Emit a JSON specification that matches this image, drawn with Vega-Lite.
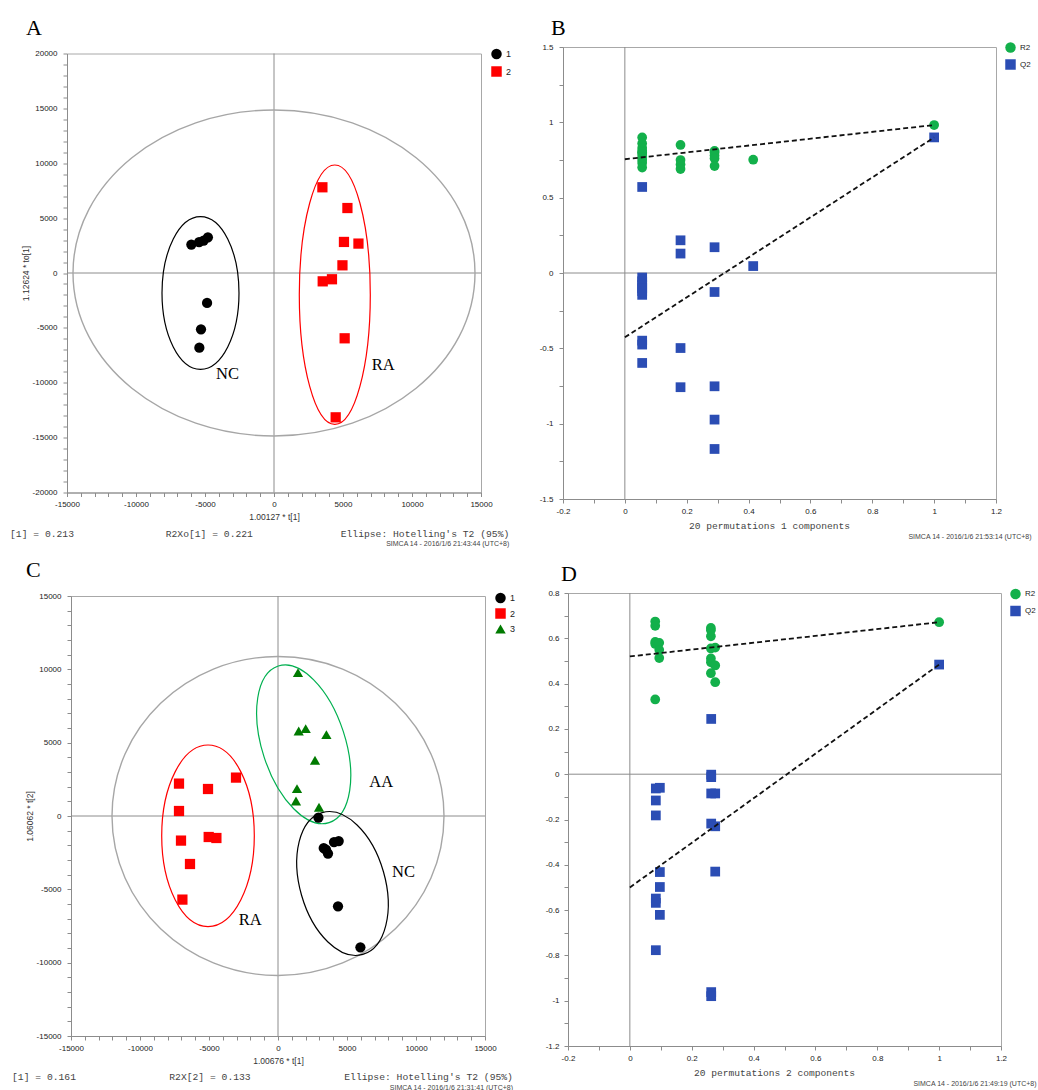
{
"$schema": "https://vega.github.io/schema/vega-lite/v6.json",
"background": "white",
"padding": {"left": 9, "top": 16, "right": 0, "bottom": 0},
"bounds": "flush",
"spacing": 546,
"resolve": {"scale": {"color": "independent", "shape": "independent"}},
"config": {
  "view": {"stroke": "#a8a8a8", "strokeWidth": 1},
  "axis": {"grid": false, "domainColor": "#8c8c8c", "tickColor": "#8c8c8c", "tickSize": 4, "labelFont": "Liberation Sans", "labelFontSize": 8, "labelColor": "#222", "labelOverlap": false, "labelFlush": false, "labelBound": false, "labelPadding": 4, "titleFont": "Liberation Sans", "titleFontSize": 8.5, "titleFontWeight": "normal", "titleColor": "#333"},
  "axisY": {"labelPadding": 6},
  "legend": {"padding": 0, "labelFont": "Liberation Sans", "labelFontSize": 9, "labelColor": "#222", "symbolStrokeWidth": 0, "symbolSize": 110, "labelOffset": 4},
  "title": {"font": "Liberation Serif", "fontSize": 22, "fontWeight": "normal", "anchor": "start", "frame": "group", "color": "#000"},
  "locale": {"number": {"decimal": ".", "thousands": "", "grouping": [3], "currency": ["", ""], "minus": "-"}}
},
"vconcat": [
 {
  "hconcat": [
   {
    "width": 414, "height": 439,
    "title": {"text": "A", "dx": -41, "offset": 8.5},
    "layer": [
     {"data": {"values": [{"x": 0}]}, "mark": {"type": "rule", "color": "#8c8c8c", "strokeWidth": 1}, "encoding": {"x": {"field": "x", "type": "quantitative"}}},
     {"data": {"values": [{"y": 0}]}, "mark": {"type": "rule", "color": "#8c8c8c", "strokeWidth": 1}, "encoding": {"y": {"field": "y", "type": "quantitative"}}},
     {"data": {"values": [{"x": 0, "y": 0}]}, "mark": {"type": "point", "shape": "M201,0C201,90 111,163 0,163C-111,163 -201,90 -201,0C-201,-90 -111,-163 0,-163C111,-163 201,-90 201,0Z", "size": 4, "filled": false, "stroke": "#a6a6a6", "strokeWidth": 1.4, "opacity": 1}, "encoding": {"x": {"field": "x", "type": "quantitative"}, "y": {"field": "y", "type": "quantitative"}}},
     {"data": {"values": [{"x": -5326, "y": -1822}]}, "mark": {"type": "point", "shape": "M38.5,0C38.5,42.1 21.3,76.3 0,76.3C-21.3,76.3 -38.5,42.1 -38.5,0C-38.5,-42.1 -21.3,-76.3 0,-76.3C21.3,-76.3 38.5,-42.1 38.5,0Z", "size": 4, "filled": false, "stroke": "#000000", "strokeWidth": 1.2, "opacity": 1}, "encoding": {"x": {"field": "x", "type": "quantitative"}, "y": {"field": "y", "type": "quantitative"}}},
     {"data": {"values": [{"x": 4406, "y": -1977}]}, "mark": {"type": "point", "shape": "M35.5,0C35.5,71.6 19.6,129.7 0,129.7C-19.6,129.7 -35.5,71.6 -35.5,0C-35.5,-71.6 -19.6,-129.7 0,-129.7C19.6,-129.7 35.5,-71.6 35.5,0Z", "size": 4, "filled": false, "stroke": "#ff0000", "strokeWidth": 1.2, "opacity": 1}, "encoding": {"x": {"field": "x", "type": "quantitative"}, "y": {"field": "y", "type": "quantitative"}}},
     {"data": {"values": [
        {"x": -5990, "y": 2590, "g": "1"}, {"x": -5430, "y": 2820, "g": "1"}, {"x": -5100, "y": 2950, "g": "1"}, {"x": -4790, "y": 3250, "g": "1"},
        {"x": -4850, "y": -2730, "g": "1"}, {"x": -5290, "y": -5130, "g": "1"}, {"x": -5410, "y": -6800, "g": "1"},
        {"x": 3507, "y": 7810, "g": "2"}, {"x": 5320, "y": 5920, "g": "2"}, {"x": 5070, "y": 2830, "g": "2"}, {"x": 6120, "y": 2680, "g": "2"},
        {"x": 4960, "y": 700, "g": "2"}, {"x": 3530, "y": -760, "g": "2"}, {"x": 4200, "y": -570, "g": "2"}, {"x": 5120, "y": -5950, "g": "2"}, {"x": 4470, "y": -13150, "g": "2"}]},
      "mark": {"type": "point", "filled": true, "opacity": 1, "size": 105},
      "encoding": {
       "x": {"field": "x", "type": "quantitative", "scale": {"domain": [-15000, 15000], "nice": false, "zero": false},
             "axis": {"values": [-15000,-14000,-13000,-12000,-11000,-10000,-9000,-8000,-7000,-6000,-5000,-4000,-3000,-2000,-1000,0,1000,2000,3000,4000,5000,6000,7000,8000,9000,10000,11000,12000,13000,14000,15000], "tickCount": 200, "format": "d", "labelExpr": "datum.value % 5000 === 0 ? datum.label : ''", "labelOverlap": false, "title": "1.00127 * t[1]", "titlePadding": 4}},
       "y": {"field": "y", "type": "quantitative", "scale": {"domain": [-20000, 20000], "nice": false, "zero": false},
             "axis": {"values": [-20000,-19000,-18000,-17000,-16000,-15000,-14000,-13000,-12000,-11000,-10000,-9000,-8000,-7000,-6000,-5000,-4000,-3000,-2000,-1000,0,1000,2000,3000,4000,5000,6000,7000,8000,9000,10000,11000,12000,13000,14000,15000,16000,17000,18000,19000,20000], "tickCount": 200, "format": "d", "labelExpr": "datum.value % 5000 === 0 ? datum.label : ''", "labelOverlap": false, "title": "1.12624 * to[1]", "titlePadding": 2}},
       "color": {"field": "g", "type": "nominal", "scale": {"domain": ["1", "2"], "range": ["#000000", "#ff0000"]}, "legend": {"title": null, "orient": "none", "legendX": 424, "legendY": -5, "rowPadding": 6.5}},
       "shape": {"field": "g", "type": "nominal", "scale": {"domain": ["1", "2"], "range": ["circle", "square"]}, "legend": {"title": null, "orient": "none", "legendX": 424, "legendY": -5, "rowPadding": 6.5}}
      }},
     {"data": {"values": [{"x": -4203, "y": -9658, "t": "NC"}, {"x": 7080, "y": -8838, "t": "RA"}]}, "mark": {"type": "text", "align": "left", "baseline": "alphabetic", "font": "Liberation Serif", "fontSize": 16.5, "color": "#000"}, "encoding": {"x": {"field": "x", "type": "quantitative"}, "y": {"field": "y", "type": "quantitative"}, "text": {"field": "t"}}},
     {"data": {"values": [{"x": -19130, "y": -23754, "t": "[1] = 0.213"}, {"x": -7848, "y": -23754, "t": "R2Xo[1] = 0.221"}, {"x": 4833, "y": -23754, "t": "Ellipse: Hotelling's T2 (95%)"}]}, "mark": {"type": "text", "align": "left", "baseline": "middle", "font": "Liberation Mono", "fontSize": 9.7, "color": "#444"}, "encoding": {"x": {"field": "x", "type": "quantitative"}, "y": {"field": "y", "type": "quantitative"}, "text": {"field": "t"}}},
     {"data": {"values": [{"x": 17050, "y": -24665, "t": "SIMCA 14 - 2016/1/6 21:43:44 (UTC+8)"}]}, "mark": {"type": "text", "align": "right", "baseline": "middle", "font": "Liberation Sans", "fontSize": 7, "color": "#444"}, "encoding": {"x": {"field": "x", "type": "quantitative"}, "y": {"field": "y", "type": "quantitative"}, "text": {"field": "t"}}}
    ]
   },
   {
    "width": 433, "height": 452,
    "title": {"text": "B", "dx": -12, "offset": 2},
    "layer": [
     {"data": {"values": [{"x": 0}]}, "mark": {"type": "rule", "color": "#8c8c8c", "strokeWidth": 1}, "encoding": {"x": {"field": "x", "type": "quantitative"}}},
     {"data": {"values": [{"y": 0}]}, "mark": {"type": "rule", "color": "#8c8c8c", "strokeWidth": 1}, "encoding": {"y": {"field": "y", "type": "quantitative"}}},
     {"data": {"values": [
        {"x": 0.056, "y": 0.90, "s": "R2"}, {"x": 0.056, "y": 0.86, "s": "R2"}, {"x": 0.056, "y": 0.83, "s": "R2"}, {"x": 0.056, "y": 0.81, "s": "R2"}, {"x": 0.056, "y": 0.80, "s": "R2"},
        {"x": 0.056, "y": 0.79, "s": "R2"}, {"x": 0.056, "y": 0.77, "s": "R2"}, {"x": 0.056, "y": 0.75, "s": "R2"}, {"x": 0.056, "y": 0.73, "s": "R2"}, {"x": 0.056, "y": 0.70, "s": "R2"},
        {"x": 0.18, "y": 0.85, "s": "R2"}, {"x": 0.18, "y": 0.75, "s": "R2"}, {"x": 0.18, "y": 0.72, "s": "R2"}, {"x": 0.18, "y": 0.69, "s": "R2"},
        {"x": 0.29, "y": 0.81, "s": "R2"}, {"x": 0.29, "y": 0.80, "s": "R2"}, {"x": 0.29, "y": 0.78, "s": "R2"}, {"x": 0.29, "y": 0.76, "s": "R2"}, {"x": 0.29, "y": 0.71, "s": "R2"},
        {"x": 0.415, "y": 0.752, "s": "R2"}, {"x": 1.0, "y": 0.982, "s": "R2"},
        {"x": 0.056, "y": 0.571, "s": "Q2"}, {"x": 0.056, "y": -0.03, "s": "Q2"}, {"x": 0.056, "y": -0.055, "s": "Q2"}, {"x": 0.056, "y": -0.08, "s": "Q2"}, {"x": 0.056, "y": -0.10, "s": "Q2"},
        {"x": 0.056, "y": -0.12, "s": "Q2"}, {"x": 0.056, "y": -0.145, "s": "Q2"}, {"x": 0.056, "y": -0.449, "s": "Q2"}, {"x": 0.056, "y": -0.475, "s": "Q2"}, {"x": 0.056, "y": -0.597, "s": "Q2"},
        {"x": 0.18, "y": 0.217, "s": "Q2"}, {"x": 0.18, "y": 0.129, "s": "Q2"}, {"x": 0.18, "y": -0.498, "s": "Q2"}, {"x": 0.18, "y": -0.758, "s": "Q2"},
        {"x": 0.29, "y": 0.171, "s": "Q2"}, {"x": 0.29, "y": -0.126, "s": "Q2"}, {"x": 0.29, "y": -0.752, "s": "Q2"}, {"x": 0.29, "y": -0.973, "s": "Q2"}, {"x": 0.29, "y": -1.168, "s": "Q2"},
        {"x": 0.415, "y": 0.046, "s": "Q2"}, {"x": 1.0, "y": 0.90, "s": "Q2"}]},
      "mark": {"type": "point", "filled": true, "opacity": 1, "size": 95},
      "encoding": {
       "x": {"field": "x", "type": "quantitative", "scale": {"domain": [-0.2, 1.2], "nice": false, "zero": false},
             "axis": {"values": [-0.2,-0.1,0,0.1,0.2,0.3,0.4,0.5,0.6,0.7,0.8,0.9,1,1.1,1.2], "tickCount": 200, "format": "~g", "labelExpr": "round(datum.value*10) % 2 === 0 ? datum.label : ''", "labelOverlap": false, "title": "20 permutations 1 components", "titleFont": "Liberation Mono", "titleFontSize": 9.6, "titleColor": "#444", "titlePadding": 5, "titleX": 206}},
       "y": {"field": "y", "type": "quantitative", "scale": {"domain": [-1.5, 1.5], "nice": false, "zero": false},
             "axis": {"values": [-1.5,-1.25,-1,-0.75,-0.5,-0.25,0,0.25,0.5,0.75,1,1.25,1.5], "tickCount": 200, "format": "~g", "labelExpr": "round(datum.value*4) % 2 === 0 ? datum.label : ''", "labelOverlap": false, "title": null}},
       "color": {"field": "s", "type": "nominal", "scale": {"domain": ["R2", "Q2"], "range": ["#13b04b", "#2b4db4"]}, "legend": {"title": null, "orient": "none", "legendX": 442, "legendY": -5, "rowPadding": 6, "labelFontSize": 8}},
       "shape": {"field": "s", "type": "nominal", "scale": {"domain": ["R2", "Q2"], "range": ["circle", "square"]}, "legend": {"title": null, "orient": "none", "legendX": 442, "legendY": -5, "rowPadding": 6, "labelFontSize": 8}}
      }},
     {"data": {"values": [{"x": 0, "y": 0.755, "s": "R2"}, {"x": 1, "y": 0.982, "s": "R2"}, {"x": 0, "y": -0.427, "s": "Q2"}, {"x": 1, "y": 0.9, "s": "Q2"}]}, "mark": {"type": "line", "color": "#111", "strokeWidth": 1.8, "strokeDash": [5, 3]}, "encoding": {"x": {"field": "x", "type": "quantitative"}, "y": {"field": "y", "type": "quantitative"}, "detail": {"field": "s"}}},
     {"data": {"values": [{"x": 1.315, "y": -1.75, "t": "SIMCA 14 - 2016/1/6 21:53:14 (UTC+8)"}]}, "mark": {"type": "text", "align": "right", "baseline": "middle", "font": "Liberation Sans", "fontSize": 7, "color": "#444"}, "encoding": {"x": {"field": "x", "type": "quantitative"}, "y": {"field": "y", "type": "quantitative"}, "text": {"field": "t"}}}
    ]
   }
  ],
  "spacing": 82,
  "center": true,
  "bounds": "flush",
  "resolve": {"scale": {"color": "independent", "shape": "independent"}}
 },
 {
  "hconcat": [
   {
    "hconcat": [
     {"width": 4, "height": 1, "data": {"values": [{"k": 0}]}, "mark": {"type": "point", "opacity": 0}, "view": {"stroke": null}},
     {
      "vconcat": [
       {"width": 1, "height": 3, "data": {"values": [{"k": 0}]}, "mark": {"type": "point", "opacity": 0}, "view": {"stroke": null}},
       {
        "width": 414, "height": 440,
        "title": {"text": "C", "dx": -45, "offset": 10},
        "layer": [
         {"data": {"values": [{"x": 0}]}, "mark": {"type": "rule", "color": "#8c8c8c", "strokeWidth": 1}, "encoding": {"x": {"field": "x", "type": "quantitative"}}},
         {"data": {"values": [{"y": 0}]}, "mark": {"type": "rule", "color": "#8c8c8c", "strokeWidth": 1}, "encoding": {"y": {"field": "y", "type": "quantitative"}}},
         {"data": {"values": [{"x": 0, "y": 0}]}, "mark": {"type": "point", "shape": "M166,0C166,88.1 91.7,159.5 0,159.5C-91.7,159.5 -166,88.1 -166,0C-166,-88.1 -91.7,-159.5 0,-159.5C91.7,-159.5 166,-88.1 166,0Z", "size": 4, "filled": false, "stroke": "#a6a6a6", "strokeWidth": 1.4, "opacity": 1}, "encoding": {"x": {"field": "x", "type": "quantitative"}, "y": {"field": "y", "type": "quantitative"}}},
         {"data": {"values": [{"x": -5072, "y": -1350}]}, "mark": {"type": "point", "shape": "M46.3,0C46.3,50.1 25.6,90.8 0,90.8C-25.6,90.8 -46.3,50.1 -46.3,0C-46.3,-50.1 -25.6,-90.8 0,-90.8C25.6,-90.8 46.3,-50.1 46.3,0Z", "size": 4, "filled": false, "stroke": "#ff0000", "strokeWidth": 1.2, "opacity": 1}, "encoding": {"x": {"field": "x", "type": "quantitative"}, "y": {"field": "y", "type": "quantitative"}}},
         {"data": {"values": [{"x": 1862, "y": 4889}]}, "mark": {"type": "point", "shape": "M41.6,0C41.6,45.5 23,82.3 0,82.3C-23,82.3 -41.6,45.5 -41.6,0C-41.6,-45.5 -23,-82.3 0,-82.3C23,-82.3 41.6,-45.5 41.6,0Z", "angle": -18, "size": 4, "filled": false, "stroke": "#00b050", "strokeWidth": 1.2, "opacity": 1}, "encoding": {"x": {"field": "x", "type": "quantitative"}, "y": {"field": "y", "type": "quantitative"}}},
         {"data": {"values": [{"x": 4674, "y": -4602}]}, "mark": {"type": "point", "shape": "M42.6,0C42.6,40.8 23.5,73.8 0,73.8C-23.5,73.8 -42.6,40.8 -42.6,0C-42.6,-40.8 -23.5,-73.8 0,-73.8C23.5,-73.8 42.6,-40.8 42.6,0Z", "angle": -16, "size": 4, "filled": false, "stroke": "#000000", "strokeWidth": 1.2, "opacity": 1}, "encoding": {"x": {"field": "x", "type": "quantitative"}, "y": {"field": "y", "type": "quantitative"}}},
         {"data": {"values": [
            {"x": 2928, "y": -109, "g": "1"}, {"x": 3312, "y": -2182, "g": "1"}, {"x": 3623, "y": -2564, "g": "1"}, {"x": 3480, "y": -2300, "g": "1"},
            {"x": 4058, "y": -1773, "g": "1"}, {"x": 4399, "y": -1705, "g": "1"}, {"x": 4348, "y": -6157, "g": "1"}, {"x": 5971, "y": -8952, "g": "1"},
            {"x": -7174, "y": 2209, "g": "2"}, {"x": -5072, "y": 1841, "g": "2"}, {"x": -3043, "y": 2618, "g": "2"}, {"x": -7174, "y": 341, "g": "2"},
            {"x": -7029, "y": -1677, "g": "2"}, {"x": -5022, "y": -1432, "g": "2"}, {"x": -4464, "y": -1500, "g": "2"}, {"x": -6377, "y": -3273, "g": "2"}, {"x": -6928, "y": -5700, "g": "2"},
            {"x": 1449, "y": 9777, "g": "3"}, {"x": 1500, "y": 5796, "g": "3"}, {"x": 2007, "y": 5959, "g": "3"}, {"x": 3507, "y": 5550, "g": "3"},
            {"x": 2681, "y": 3798, "g": "3"}, {"x": 1377, "y": 1868, "g": "3"}, {"x": 1304, "y": 1023, "g": "3"}, {"x": 2971, "y": 593, "g": "3"}]},
          "mark": {"type": "point", "filled": true, "opacity": 1, "size": 105},
          "encoding": {
           "x": {"field": "x", "type": "quantitative", "scale": {"domain": [-15000, 15000], "nice": false, "zero": false},
                 "axis": {"values": [-15000,-14000,-13000,-12000,-11000,-10000,-9000,-8000,-7000,-6000,-5000,-4000,-3000,-2000,-1000,0,1000,2000,3000,4000,5000,6000,7000,8000,9000,10000,11000,12000,13000,14000,15000], "tickCount": 200, "format": "d", "labelExpr": "datum.value % 5000 === 0 ? datum.label : ''", "labelOverlap": false, "title": "1.00676 * t[1]", "titlePadding": 4}},
           "y": {"field": "y", "type": "quantitative", "scale": {"domain": [-15000, 15000], "nice": false, "zero": false},
                 "axis": {"values": [-15000,-14000,-13000,-12000,-11000,-10000,-9000,-8000,-7000,-6000,-5000,-4000,-3000,-2000,-1000,0,1000,2000,3000,4000,5000,6000,7000,8000,9000,10000,11000,12000,13000,14000,15000], "tickCount": 200, "format": "d", "labelExpr": "datum.value % 5000 === 0 ? datum.label : ''", "labelOverlap": false, "title": "1.06062 * t[2]", "titlePadding": 2}},
           "color": {"field": "g", "type": "nominal", "scale": {"domain": ["1", "2", "3"], "range": ["#000000", "#ff0000", "#007a00"]}, "legend": {"title": null, "orient": "none", "legendX": 424, "legendY": -3.5, "rowPadding": 4.5}},
           "shape": {"field": "g", "type": "nominal", "scale": {"domain": ["1", "2", "3"], "range": ["circle", "square", "triangle-up"]}, "legend": {"title": null, "orient": "none", "legendX": 424, "legendY": -3.5, "rowPadding": 4.5}}
          }},
         {"data": {"values": [{"x": 6616, "y": 1998, "t": "AA"}, {"x": -2848, "y": -7432, "t": "RA"}, {"x": 8261, "y": -4159, "t": "NC"}]}, "mark": {"type": "text", "align": "left", "baseline": "alphabetic", "font": "Liberation Serif", "fontSize": 16.5, "color": "#000"}, "encoding": {"x": {"field": "x", "type": "quantitative"}, "y": {"field": "y", "type": "quantitative"}, "text": {"field": "t"}}},
         {"data": {"values": [{"x": -19275, "y": -17775, "t": "[1] = 0.161"}, {"x": -7877, "y": -17775, "t": "R2X[2] = 0.133"}, {"x": 4804, "y": -17775, "t": "Ellipse: Hotelling's T2 (95%)"}]}, "mark": {"type": "text", "align": "left", "baseline": "middle", "font": "Liberation Mono", "fontSize": 9.7, "color": "#444"}, "encoding": {"x": {"field": "x", "type": "quantitative"}, "y": {"field": "y", "type": "quantitative"}, "text": {"field": "t"}}},
         {"data": {"values": [{"x": 17029, "y": -18525, "t": "SIMCA 14 - 2016/1/6 21:31:41 (UTC+8)"}]}, "mark": {"type": "text", "align": "right", "baseline": "middle", "font": "Liberation Sans", "fontSize": 7, "color": "#444"}, "encoding": {"x": {"field": "x", "type": "quantitative"}, "y": {"field": "y", "type": "quantitative"}, "text": {"field": "t"}}}
        ]
       }
      ],
      "spacing": 0,
      "bounds": "flush",
      "resolve": {"scale": {"color": "independent", "shape": "independent"}}
     }
    ],
    "spacing": 0,
    "bounds": "flush",
    "resolve": {"scale": {"color": "independent", "shape": "independent"}}
   },
   {
    "width": 433, "height": 453,
    "title": {"text": "D", "dx": -7, "offset": 3},
    "layer": [
     {"data": {"values": [{"x": 0}]}, "mark": {"type": "rule", "color": "#8c8c8c", "strokeWidth": 1}, "encoding": {"x": {"field": "x", "type": "quantitative"}}},
     {"data": {"values": [{"y": 0}]}, "mark": {"type": "rule", "color": "#8c8c8c", "strokeWidth": 1}, "encoding": {"y": {"field": "y", "type": "quantitative"}}},
     {"data": {"values": [
        {"x": 0.082, "y": 0.674, "s": "R2"}, {"x": 0.082, "y": 0.655, "s": "R2"}, {"x": 0.082, "y": 0.584, "s": "R2"}, {"x": 0.082, "y": 0.575, "s": "R2"}, {"x": 0.082, "y": 0.33, "s": "R2"},
        {"x": 0.095, "y": 0.58, "s": "R2"}, {"x": 0.095, "y": 0.549, "s": "R2"}, {"x": 0.095, "y": 0.513, "s": "R2"},
        {"x": 0.262, "y": 0.646, "s": "R2"}, {"x": 0.262, "y": 0.636, "s": "R2"}, {"x": 0.262, "y": 0.609, "s": "R2"}, {"x": 0.262, "y": 0.555, "s": "R2"},
        {"x": 0.262, "y": 0.511, "s": "R2"}, {"x": 0.262, "y": 0.494, "s": "R2"}, {"x": 0.262, "y": 0.446, "s": "R2"},
        {"x": 0.276, "y": 0.559, "s": "R2"}, {"x": 0.276, "y": 0.48, "s": "R2"}, {"x": 0.276, "y": 0.406, "s": "R2"},
        {"x": 1.0, "y": 0.671, "s": "R2"},
        {"x": 0.084, "y": -0.063, "s": "Q2"}, {"x": 0.084, "y": -0.116, "s": "Q2"}, {"x": 0.084, "y": -0.182, "s": "Q2"}, {"x": 0.084, "y": -0.549, "s": "Q2"}, {"x": 0.084, "y": -0.568, "s": "Q2"}, {"x": 0.084, "y": -0.777, "s": "Q2"},
        {"x": 0.097, "y": -0.06, "s": "Q2"}, {"x": 0.097, "y": -0.432, "s": "Q2"}, {"x": 0.097, "y": -0.498, "s": "Q2"}, {"x": 0.097, "y": -0.621, "s": "Q2"},
        {"x": 0.263, "y": 0.244, "s": "Q2"}, {"x": 0.263, "y": -0.002, "s": "Q2"}, {"x": 0.263, "y": -0.013, "s": "Q2"}, {"x": 0.263, "y": -0.085, "s": "Q2"}, {"x": 0.263, "y": -0.218, "s": "Q2"}, {"x": 0.263, "y": -0.962, "s": "Q2"}, {"x": 0.263, "y": -0.98, "s": "Q2"},
        {"x": 0.276, "y": -0.085, "s": "Q2"}, {"x": 0.276, "y": -0.23, "s": "Q2"}, {"x": 0.276, "y": -0.43, "s": "Q2"},
        {"x": 1.0, "y": 0.484, "s": "Q2"}]},
      "mark": {"type": "point", "filled": true, "opacity": 1, "size": 95},
      "encoding": {
       "x": {"field": "x", "type": "quantitative", "scale": {"domain": [-0.2, 1.2], "nice": false, "zero": false},
             "axis": {"values": [-0.2,-0.1,0,0.1,0.2,0.3,0.4,0.5,0.6,0.7,0.8,0.9,1,1.1,1.2], "tickCount": 200, "format": "~g", "labelExpr": "round(datum.value*10) % 2 === 0 ? datum.label : ''", "labelOverlap": false, "title": "20 permutations 2 components", "titleFont": "Liberation Mono", "titleFontSize": 9.6, "titleColor": "#444", "titlePadding": 5, "titleX": 206}},
       "y": {"field": "y", "type": "quantitative", "scale": {"domain": [-1.2, 0.8], "nice": false, "zero": false},
             "axis": {"values": [-1.2,-1.1,-1,-0.9,-0.8,-0.7,-0.6,-0.5,-0.4,-0.3,-0.2,-0.1,0,0.1,0.2,0.3,0.4,0.5,0.6,0.7,0.8], "tickCount": 200, "format": "~g", "labelExpr": "round(datum.value*10) % 2 === 0 ? datum.label : ''", "labelOverlap": false, "labelPadding": 5, "title": null}},
       "color": {"field": "s", "type": "nominal", "scale": {"domain": ["R2", "Q2"], "range": ["#13b04b", "#2b4db4"]}, "legend": {"title": null, "orient": "none", "legendX": 442, "legendY": -4.5, "rowPadding": 6, "labelFontSize": 8}},
       "shape": {"field": "s", "type": "nominal", "scale": {"domain": ["R2", "Q2"], "range": ["circle", "square"]}, "legend": {"title": null, "orient": "none", "legendX": 442, "legendY": -4.5, "rowPadding": 6, "labelFontSize": 8}}
      }},
     {"data": {"values": [{"x": 0, "y": 0.52, "s": "R2"}, {"x": 1, "y": 0.671, "s": "R2"}, {"x": 0, "y": -0.5, "s": "Q2"}, {"x": 1, "y": 0.484, "s": "Q2"}]}, "mark": {"type": "line", "color": "#111", "strokeWidth": 1.8, "strokeDash": [5, 3]}, "encoding": {"x": {"field": "x", "type": "quantitative"}, "y": {"field": "y", "type": "quantitative"}, "detail": {"field": "s"}}},
     {"data": {"values": [{"x": 1.315, "y": -1.368, "t": "SIMCA 14 - 2016/1/6 21:49:19 (UTC+8)"}]}, "mark": {"type": "text", "align": "right", "baseline": "middle", "font": "Liberation Sans", "fontSize": 7, "color": "#444"}, "encoding": {"x": {"field": "x", "type": "quantitative"}, "y": {"field": "y", "type": "quantitative"}, "text": {"field": "t"}}}
    ]
   }
  ],
  "spacing": 501,
  "bounds": "flush",
  "resolve": {"scale": {"color": "independent", "shape": "independent"}}
 }
]
}
